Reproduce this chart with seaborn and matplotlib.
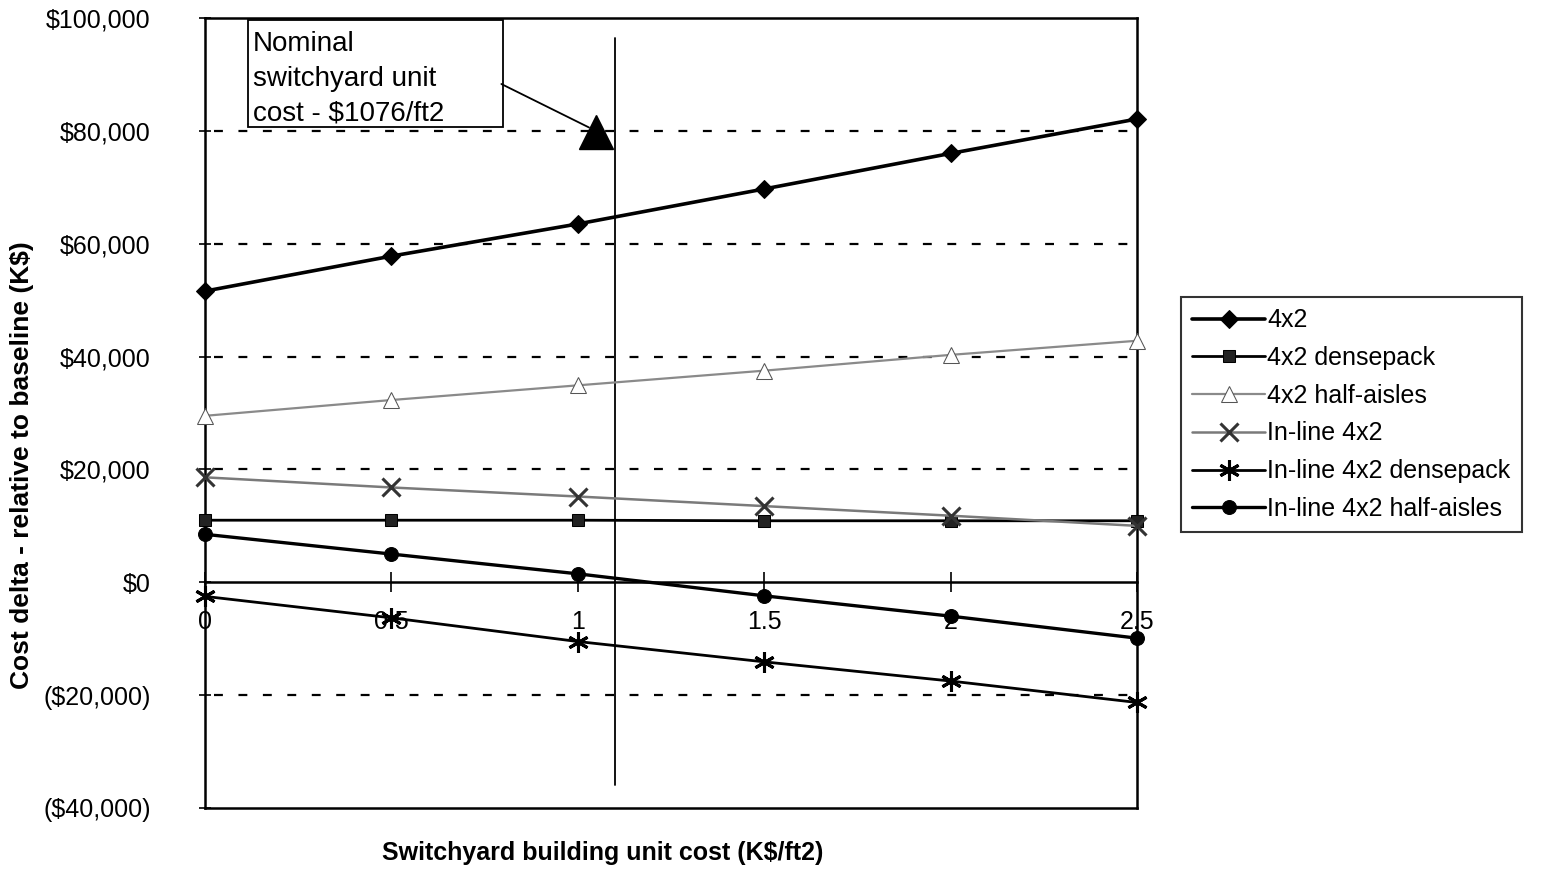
import numpy as np
import pandas as pd
import matplotlib
matplotlib.use("Agg")
import matplotlib.pyplot as plt
import matplotlib.patches as mpatches
import seaborn as sns

# ----------------------------
# Switchyard cost sensitivity data (K$)
# ----------------------------
unit_cost = [0, 0.5, 1, 1.5, 2, 2.5]

cost_4x2 = [51600, 57800, 63500, 69700, 76000, 82100]
cost_4x2_dense = [11000, 11000, 11000, 10900, 10900, 10900]
cost_4x2_half = [29500, 32300, 34900, 37500, 40300, 42800]
cost_inline = [18600, 16800, 15200, 13500, 11800, 10000]
cost_inline_dense = [-2500, -6300, -10500, -14100, -17500, -21300]
cost_inline_half = [8500, 5000, 1500, -2400, -6000, -9900]

y_ticks = [-40000, -20000, 0, 20000, 40000, 60000, 80000, 100000]
y_tick_labels = ["($40,000)", "($20,000)", "$0", "$20,000", "$40,000",
                 "$60,000", "$80,000", "$100,000"]
x_tick_labels = ["0", "0.5", "1", "1.5", "2", "2.5"]

nominal_x = 1.1
marker_x, marker_y = 1.05, 79800

series = [
    ("4x2", cost_4x2, dict(color="black", marker="D", markersize=9, linewidth=2.6,
                           markerfacecolor="black", markeredgecolor="black")),
    ("4x2 densepack", cost_4x2_dense, dict(color="black", marker="s", markersize=9, linewidth=2.0,
                                           markerfacecolor="#222222", markeredgecolor="black")),
    ("4x2 half-aisles", cost_4x2_half, dict(color="#8a8a8a", marker="^", markersize=12, linewidth=1.6,
                                            markerfacecolor="white", markeredgecolor="#555555")),
    ("In-line 4x2", cost_inline, dict(color="#7a7a7a", marker="x", markersize=13, linewidth=1.8,
                                      markeredgewidth=2.2, markeredgecolor="#333333")),
    ("In-line 4x2 densepack", cost_inline_dense, dict(color="black", marker=(6, 2, 0), markersize=15,
                                                      linewidth=2.0, markeredgewidth=2.2,
                                                      markeredgecolor="black")),
    ("In-line 4x2 half-aisles", cost_inline_half, dict(color="black", marker="o", markersize=10,
                                                       linewidth=2.4, markerfacecolor="black",
                                                       markeredgecolor="black")),
]

sns.set_theme(style="white")
plt.rcParams["font.family"] = ["Liberation Sans", "DejaVu Sans"]
plt.rcParams["text.color"] = "black"
plt.rcParams["axes.labelcolor"] = "black"
plt.rcParams["xtick.color"] = "black"
plt.rcParams["ytick.color"] = "black"

fig = plt.figure(figsize=(15.45, 8.69), dpi=100)
ax = fig.add_axes([0.1327, 0.0702, 0.6032, 0.9091])

for name, vals, style in series:
    df = pd.DataFrame({"x": unit_cost, "y": vals})
    sns.lineplot(data=df, x="x", y="y", ax=ax, label=name, clip_on=False, zorder=4, **style)

ax.set_xlim(0, 2.5)
ax.set_ylim(-40000, 100000)
ax.set_yticks(y_ticks)
ax.set_yticklabels(y_tick_labels, fontsize=18)
ax.tick_params(axis="y", direction="inout", length=8, width=1.2, color="black", pad=35, left=True)
ax.tick_params(axis="x", bottom=False, labelbottom=False)

# dashed horizontal gridlines
for yv in [-20000, 20000, 40000, 60000, 80000]:
    ax.axhline(yv, xmin=0.01, xmax=0.99, color="black", linestyle=(0, (4, 7)), linewidth=1.6, zorder=1)

for sp in ax.spines.values():
    sp.set_visible(True)
    sp.set_color("black")
    sp.set_linewidth(1.8)

# x axis drawn along y = 0
sec = ax.secondary_xaxis(0, transform=ax.transData)
sec.set_xticks(unit_cost)
sec.set_xticklabels(x_tick_labels, fontsize=18)
sec.tick_params(direction="inout", length=14, width=1.2, color="black", pad=13)
sec.spines["bottom"].set_linewidth(1.8)
sec.spines["bottom"].set_color("black")

ax.set_xlabel("Switchyard building unit cost (K$/ft2)", fontsize=18, fontweight="bold")
ax.xaxis.set_label_coords(0.427, -0.042)
ax.set_ylabel("Cost delta - relative to baseline (K$)", fontsize=19, fontweight="bold")
ax.yaxis.set_label_coords(-0.183, 0.434)

# nominal unit cost marker line and note
ax.plot([nominal_x, nominal_x], [96500, -36000], color="black", linewidth=1.3, zorder=3)
ax.plot([marker_x], [marker_y], marker="^", markersize=24, color="black", zorder=5)
note_box = mpatches.Rectangle((0.115, 80600), 0.685, 19000, facecolor="white",
                              edgecolor="black", linewidth=1.3, zorder=6)
ax.add_patch(note_box)
ax.annotate("", xy=(marker_x - 0.02, marker_y + 800), xytext=(0.795, 88300),
            arrowprops=dict(arrowstyle="-", color="black", linewidth=1.3, shrinkA=0, shrinkB=0),
            zorder=6)
ax.text(0.128, 97700, "Nominal\nswitchyard unit\ncost - $1076/ft2", fontsize=20,
        ha="left", va="top", linespacing=1.43, zorder=7)

leg = ax.legend(loc="upper left", bbox_to_anchor=(1181 / 1545, 1 - 297 / 869),
                bbox_transform=fig.transFigure, fontsize=18, frameon=True, fancybox=False,
                borderaxespad=0, handlelength=2.9, handletextpad=0.1, labelspacing=0.55,
                borderpad=0.45)
leg.get_frame().set_edgecolor("black")
leg.get_frame().set_linewidth(1.5)

plt.savefig("out.png", dpi=100)
